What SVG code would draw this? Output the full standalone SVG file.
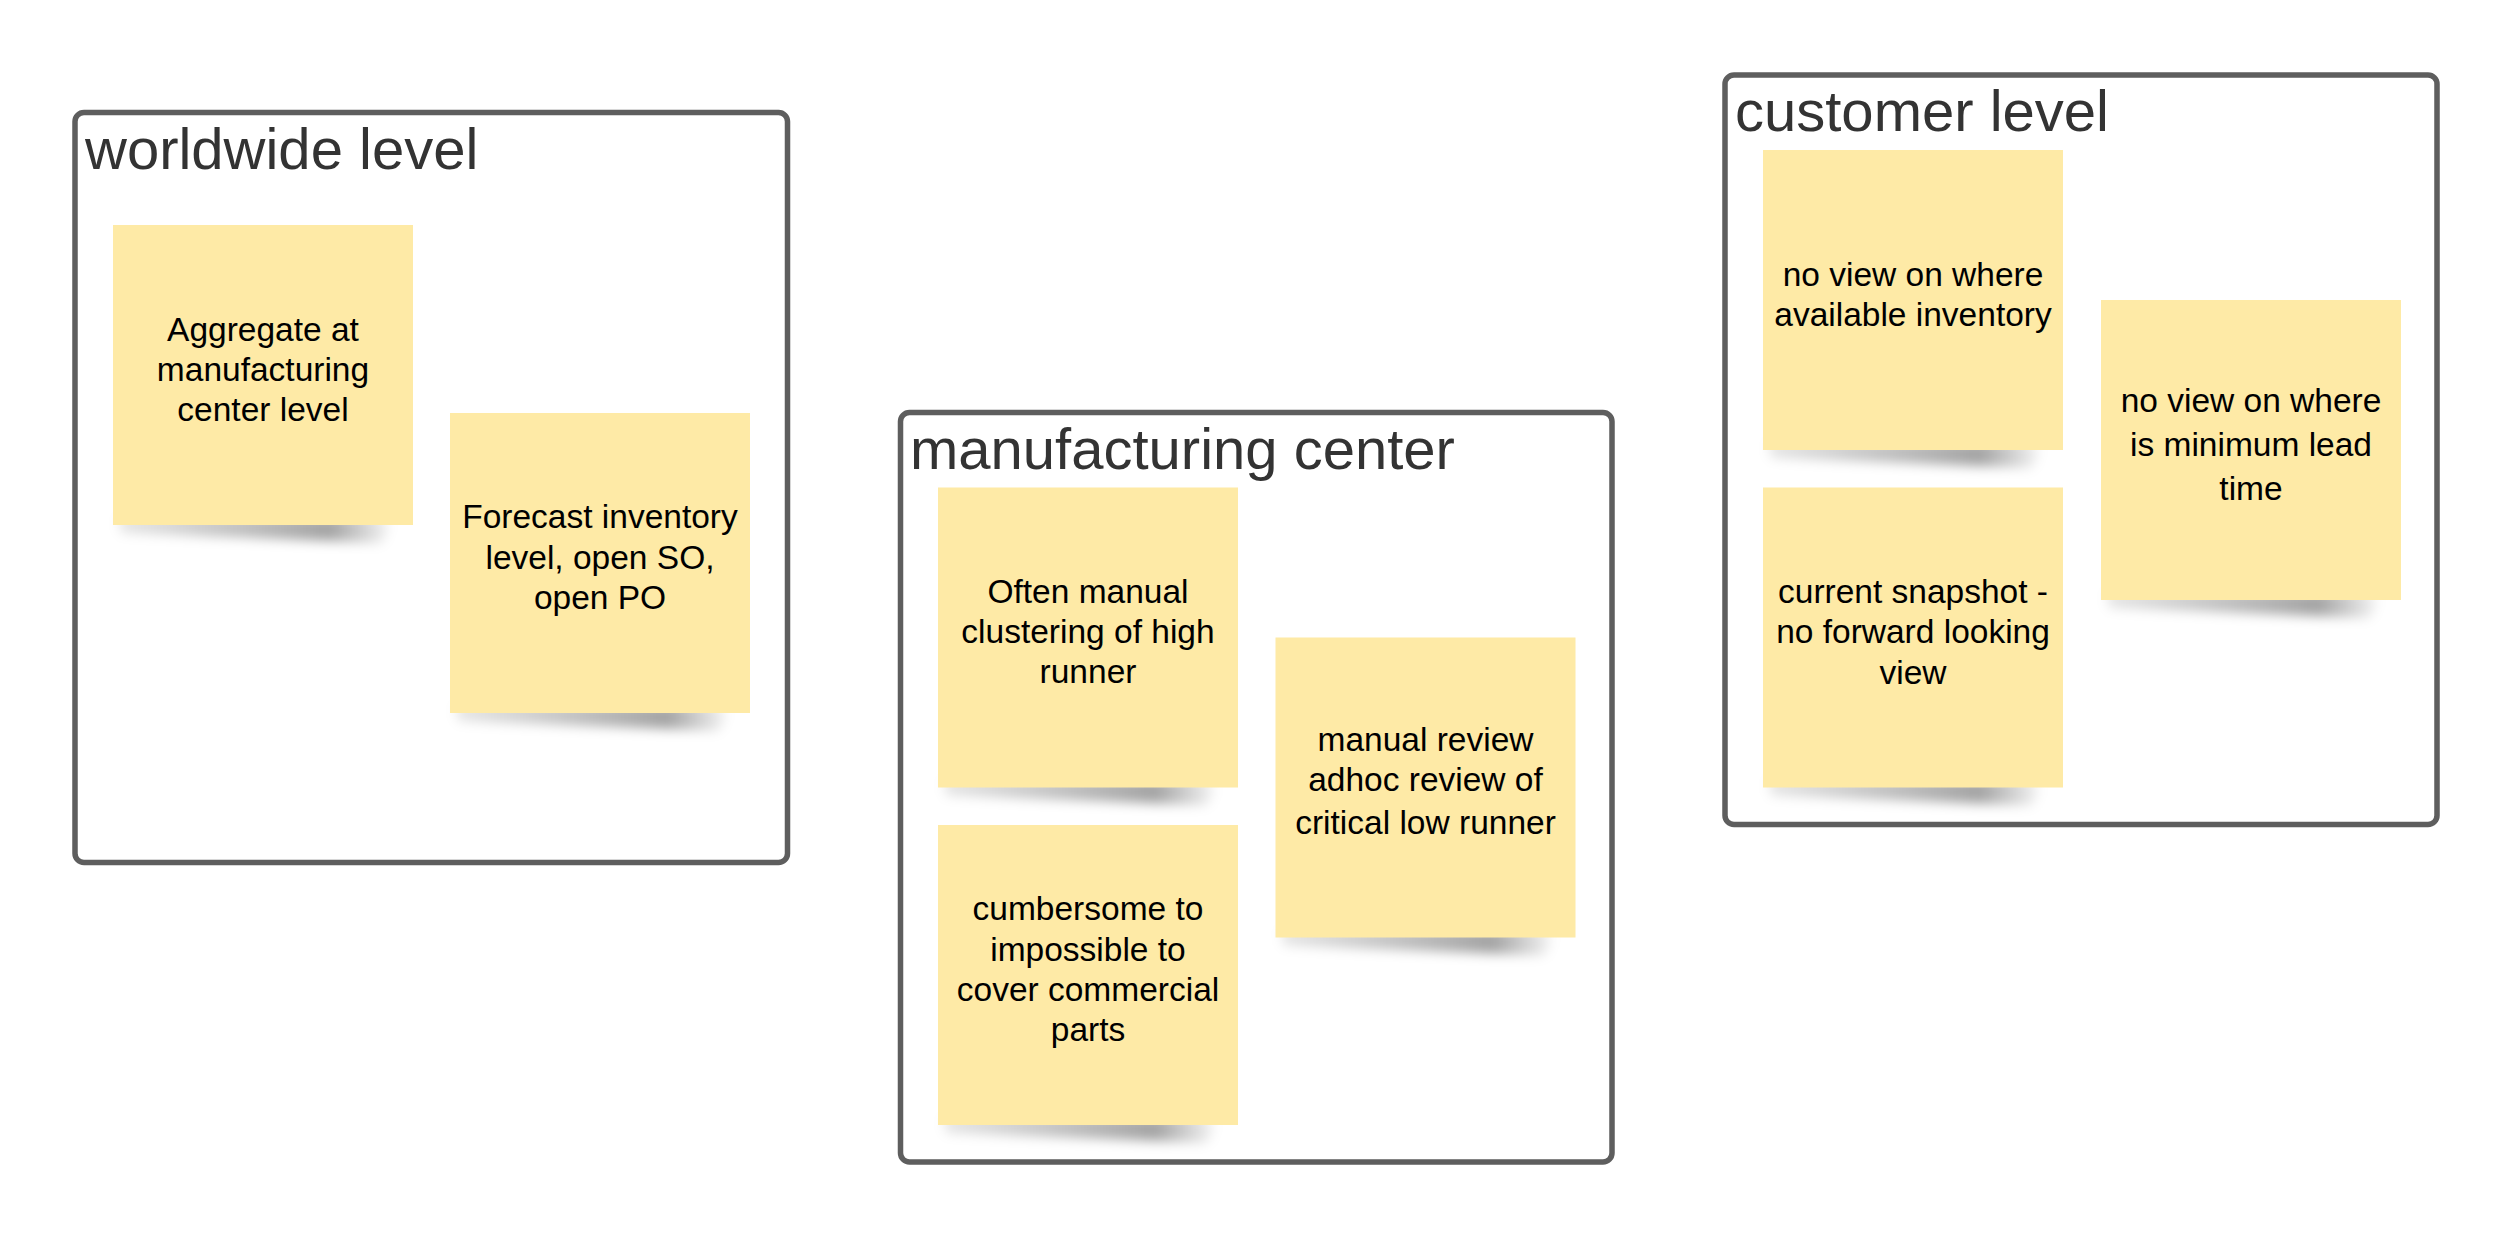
<svg xmlns="http://www.w3.org/2000/svg" width="2513" height="1238" viewBox="0 0 2513 1238">
  <style>
    .frame { fill: #ffffff; stroke: #5e5e5e; stroke-width: 5.5; }
    .title { font-family: "Liberation Sans", Arial, sans-serif; font-size: 58px; fill: #333333; }
    .note { fill: #feeaa6; }
    .noteText { font-family: "Liberation Sans", Arial, sans-serif; font-size: 33.5px; fill: #000000; text-anchor: middle; }
    .shadow { fill: url(#shadowGrad); filter: url(#blur); }
  </style>
  <defs>
    <linearGradient id="shadowGrad" x1="0" y1="0" x2="1" y2="0">
      <stop offset="0" stop-color="#000" stop-opacity="0.10"/>
      <stop offset="0.78" stop-color="#000" stop-opacity="0.36"/>
      <stop offset="1" stop-color="#000" stop-opacity="0.04"/>
    </linearGradient>
    <filter id="blur" x="-20%" y="-200%" width="140%" height="500%">
      <feGaussianBlur stdDeviation="6"/>
    </filter>
    <path id="shadowShape" d="M6,292 L264,292 Q286,297 268,318 Q160,314 8,308 Z"/>
  </defs>

  <g id="group-worldwide">
    <rect class="frame" x="75" y="112.5" width="712.5" height="750" rx="9"/>
    <text class="title" x="85" y="168.5">worldwide level</text>
  </g>
  <g id="group-manufacturing">
    <rect class="frame" x="900.5" y="412.5" width="711.5" height="749.5" rx="9"/>
    <text class="title" x="910" y="468.5">manufacturing center</text>
  </g>
  <g id="group-customer">
    <rect class="frame" x="1725" y="75" width="712" height="749.5" rx="9"/>
    <text class="title" x="1735" y="131">customer level</text>
  </g>

  <g id="connectors"></g>

  <g id="note-aggregate" transform="translate(113,225)">
    <use href="#shadowShape" class="shadow"/>
    <rect class="note" width="300" height="300"/>
    <text class="noteText" x="150"><tspan x="150" y="115.5">Aggregate at</tspan><tspan x="150" y="155.8">manufacturing</tspan><tspan x="150" y="196.1">center level</tspan></text>
  </g>
  <g id="note-forecast" transform="translate(450,413)">
    <use href="#shadowShape" class="shadow"/>
    <rect class="note" width="300" height="300"/>
    <text class="noteText" x="150"><tspan x="150" y="115.2">Forecast inventory</tspan><tspan x="150" y="155.5">level, open SO,</tspan><tspan x="150" y="195.8">open PO</tspan></text>
  </g>

  <g id="note-often-manual" transform="translate(938,487.5)">
    <use href="#shadowShape" class="shadow"/>
    <rect class="note" width="300" height="300"/>
    <text class="noteText" x="150"><tspan x="150" y="115.2">Often manual</tspan><tspan x="150" y="155.5">clustering of high</tspan><tspan x="150" y="195.8">runner</tspan></text>
  </g>
  <g id="note-cumbersome" transform="translate(938,825)">
    <use href="#shadowShape" class="shadow"/>
    <rect class="note" width="300" height="300"/>
    <text class="noteText" x="150"><tspan x="150" y="95.3">cumbersome to</tspan><tspan x="150" y="135.6">impossible to</tspan><tspan x="150" y="175.9">cover commercial</tspan><tspan x="150" y="216.2">parts</tspan></text>
  </g>
  <g id="note-manual-review" transform="translate(1275.5,637.5)">
    <use href="#shadowShape" class="shadow"/>
    <rect class="note" width="300" height="300"/>
    <text class="noteText" x="150"><tspan x="150" y="113">manual review</tspan><tspan x="150" y="153">adhoc review of</tspan><tspan x="150" y="196.3">critical low runner</tspan></text>
  </g>

  <g id="note-available-inventory" transform="translate(1763,150)">
    <use href="#shadowShape" class="shadow"/>
    <rect class="note" width="300" height="300"/>
    <text class="noteText" x="150"><tspan x="150" y="136">no view on where</tspan><tspan x="150" y="176.3">available inventory</tspan></text>
  </g>
  <g id="note-current-snapshot" transform="translate(1763,487.5)">
    <use href="#shadowShape" class="shadow"/>
    <rect class="note" width="300" height="300"/>
    <text class="noteText" x="150"><tspan x="150" y="115.5">current snapshot -</tspan><tspan x="150" y="155.8">no forward looking</tspan><tspan x="150" y="196.1">view</tspan></text>
  </g>
  <g id="note-lead-time" transform="translate(2101,300)">
    <use href="#shadowShape" class="shadow"/>
    <rect class="note" width="300" height="300"/>
    <text class="noteText" x="150"><tspan x="150" y="111.5">no view on where</tspan><tspan x="150" y="156">is minimum lead</tspan><tspan x="150" y="200">time</tspan></text>
  </g>
</svg>
